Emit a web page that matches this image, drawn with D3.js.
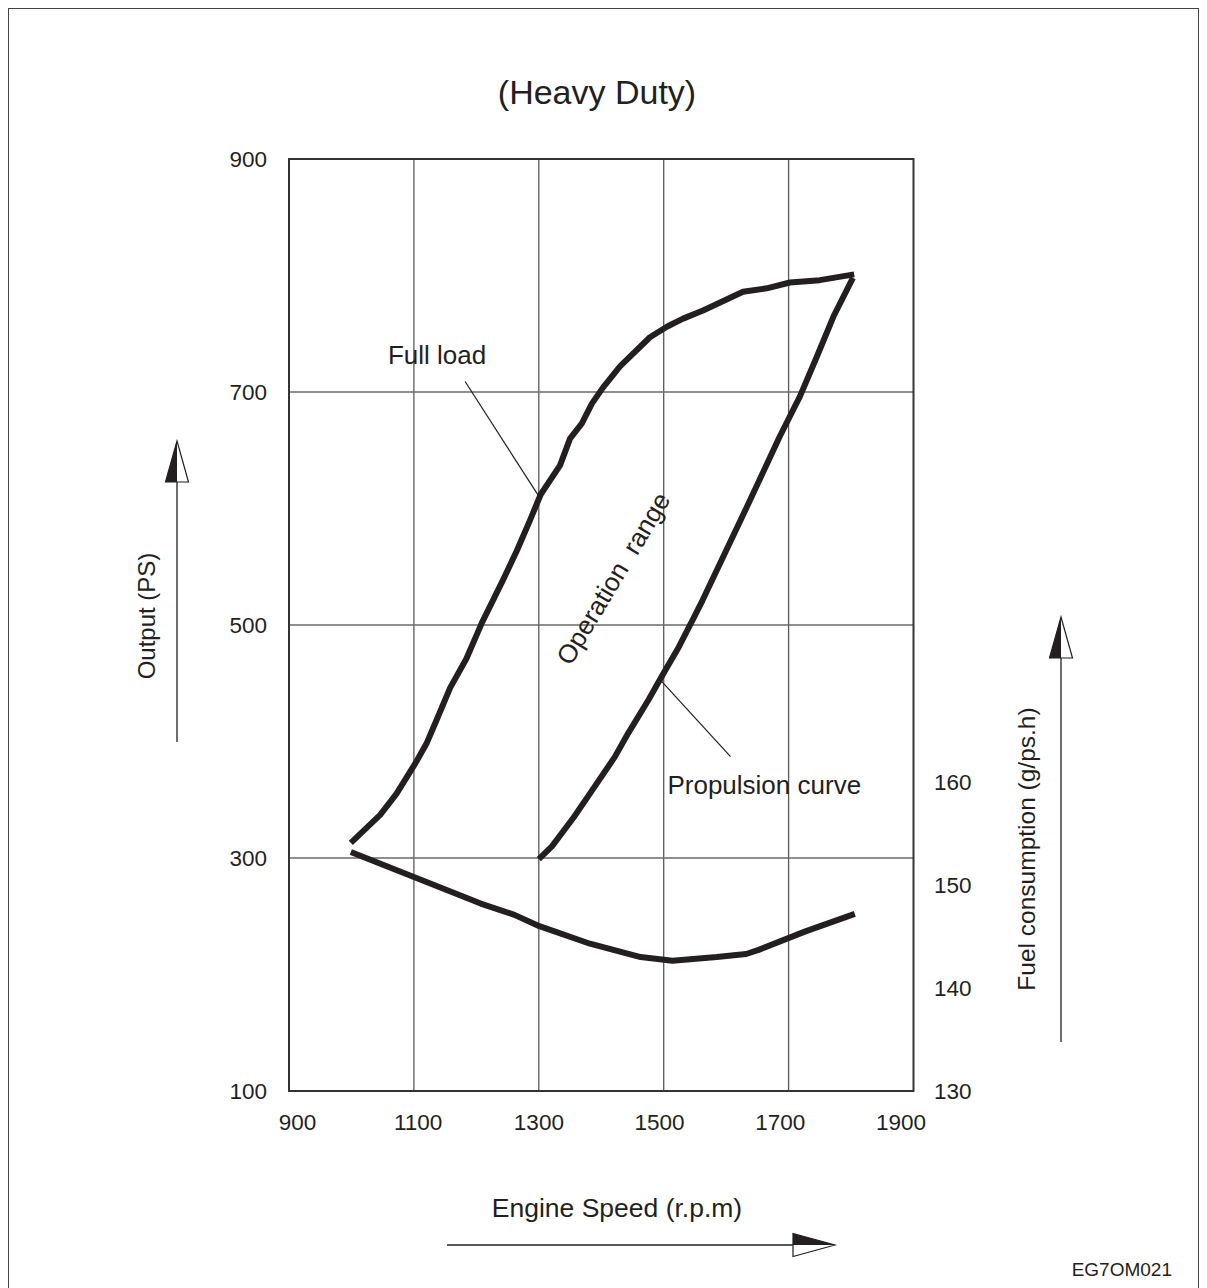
<!DOCTYPE html>
<html>
<head>
<meta charset="utf-8">
<script src="https://cdn.jsdelivr.net/npm/d3@7"></script>
<style>
  html, body { margin: 0; padding: 0; background: #fff; }
  svg { display: block; font-family: "Liberation Sans", Arial, Helvetica, sans-serif; }
  text { fill: #231f20; }
</style>
</head>
<body>
<svg id="chart" width="1207" height="1288"></svg>
<script>
// ---------- data ----------
const title = "(Heavy Duty)";
const xTicks = [900, 1100, 1300, 1500, 1700, 1900];
const yTicksLeft = [100, 300, 500, 700, 900];
const yTicksRight = [130, 140, 150, 160];

// Full load curve: engine speed (rpm) / output (PS)
const fullLoadRpm = [999, 1046, 1072, 1102, 1120, 1136, 1158, 1184, 1209, 1243, 1265, 1286, 1303, 1334, 1350, 1369, 1385, 1403, 1430, 1478, 1505, 1531, 1563, 1627, 1665, 1702, 1750, 1805];
const fullLoadPS  = [313, 337, 355, 381, 398, 418, 446, 471, 502, 539, 564, 590, 612, 637, 660, 673, 690, 704, 722, 747, 756, 763, 770, 786, 789, 794, 796, 801];

// Propulsion curve: engine speed (rpm) / output (PS)
const propRpm = [1300, 1321, 1356, 1384, 1422, 1443, 1476, 1497, 1524, 1546, 1562, 1632, 1686, 1718, 1745, 1772, 1803];
const propPS  = [299, 310, 335, 357, 387, 407, 436, 456, 481, 504, 521, 600, 662, 696, 730, 765, 798];

// Fuel consumption curve: engine speed (rpm) / g/ps.h
const fuelRpm = [999, 1099, 1207, 1261, 1301, 1382, 1463, 1514, 1585, 1632, 1652, 1727, 1806];
const fuelVal = [153.2, 150.8, 148.2, 147.1, 146.0, 144.3, 143.0, 142.65, 143.0, 143.3, 143.7, 145.5, 147.2];

// ---------- layout ----------
const L = 289, R = 913.5, T = 159, B = 1091;
const ink = "#231f20";
const svg = d3.select("#chart");

const x = d3.scaleLinear().domain([900, 1900]).range([L, R]);
const y = d3.scaleLinear().domain([100, 900]).range([B, T]);
const yR = d3.scaleLinear().domain([130, 160]).range([B, 782]);
const xLab = d3.scaleLinear().domain([900, 1900]).range([297.5, 901]);

// outer frame
svg.append("rect").attr("x", 8.5).attr("y", 8.5).attr("width", 1190).attr("height", 1300)
  .attr("fill", "none").attr("stroke", "#444").attr("stroke-width", 1);

// title
svg.append("text").attr("x", 597).attr("y", 104).attr("text-anchor", "middle")
  .attr("font-size", 34).text(title);

// grid
const g = svg.append("g");
g.selectAll("line.v").data(xTicks.slice(1, -1)).join("line")
  .attr("x1", d => x(d)).attr("x2", d => x(d)).attr("y1", T).attr("y2", B)
  .attr("stroke", "#5a5a5a").attr("stroke-width", 1.3);
g.selectAll("line.h").data(yTicksLeft.slice(1, -1)).join("line")
  .attr("y1", d => y(d)).attr("y2", d => y(d)).attr("x1", L).attr("x2", R)
  .attr("stroke", "#6a6a6a").attr("stroke-width", 1.5);

// plot frame
svg.append("rect").attr("x", L).attr("y", T).attr("width", R - L).attr("height", B - T)
  .attr("fill", "none").attr("stroke", "#333").attr("stroke-width", 2);

// tick labels
svg.append("g").selectAll("text").data(xTicks).join("text")
  .attr("x", d => xLab(d)).attr("y", 1130).attr("text-anchor", "middle")
  .attr("font-size", 22.5).text(d => d);
svg.append("g").selectAll("text").data(yTicksLeft).join("text")
  .attr("x", 267).attr("y", d => y(d) + 8).attr("text-anchor", "end")
  .attr("font-size", 22.5).text(d => d);
svg.append("g").selectAll("text").data(yTicksRight).join("text")
  .attr("x", 934).attr("y", d => yR(d) + 8).attr("text-anchor", "start")
  .attr("font-size", 22.5).text(d => d);

// curves
const line = d3.line().curve(d3.curveLinear);
function drawCurve(xs, ys, ys_scale) {
  const pts = xs.map((v, i) => [x(v), ys_scale(ys[i])]);
  svg.append("path").attr("d", line(pts)).attr("fill", "none")
    .attr("stroke", ink).attr("stroke-width", 6).attr("stroke-linejoin", "round");
}
drawCurve(fullLoadRpm, fullLoadPS, y);
drawCurve(propRpm, propPS, y);
drawCurve(fuelRpm, fuelVal, yR);

// annotations
svg.append("text").attr("x", x(1058.5)).attr("y", y(724)).attr("font-size", 26).text("Full load");
svg.append("line").attr("x1", x(1182)).attr("y1", y(709)).attr("x2", x(1303)).attr("y2", y(608))
  .attr("stroke", ink).attr("stroke-width", 1.2);
svg.append("text").attr("x", x(1506)).attr("y", y(355)).attr("font-size", 26).text("Propulsion curve");
svg.append("line").attr("x1", x(1496)).attr("y1", y(452)).attr("x2", x(1607)).attr("y2", y(387))
  .attr("stroke", ink).attr("stroke-width", 1.2);
svg.append("text")
  .attr("transform", `translate(${x(1419)},${y(540)}) rotate(-59)`)
  .attr("text-anchor", "middle").attr("dy", "0.35em").attr("font-size", 26)
  .attr("xml:space", "preserve").style("white-space", "pre")
  .text("Operation  range");

// axis titles with arrows
function arrowHead(cx, tipY, baseY, halfW) {
  svg.append("path").attr("d", `M${cx},${tipY} L${cx + halfW},${baseY} L${cx - halfW},${baseY} Z`)
    .attr("fill", "#fff").attr("stroke", ink).attr("stroke-width", 1.2);
  svg.append("path").attr("d", `M${cx},${tipY} L${cx},${baseY} L${cx - halfW},${baseY} Z`)
    .attr("fill", ink);
}
// left: Output (PS)
svg.append("line").attr("x1", 177).attr("x2", 177).attr("y1", 480).attr("y2", 742)
  .attr("stroke", ink).attr("stroke-width", 1.3);
arrowHead(177, 441, 482, 11.5);
svg.append("text").attr("transform", "translate(155,616) rotate(-90)")
  .attr("text-anchor", "middle").attr("font-size", 24).text("Output (PS)");

// right: Fuel consumption
svg.append("line").attr("x1", 1061).attr("x2", 1061).attr("y1", 656).attr("y2", 1042)
  .attr("stroke", ink).attr("stroke-width", 1.3);
arrowHead(1061, 617, 658, 11.5);
svg.append("text").attr("transform", "translate(1035,849) rotate(-90)")
  .attr("text-anchor", "middle").attr("font-size", 24.5).text("Fuel consumption (g/ps.h)");

// bottom: Engine Speed
svg.append("line").attr("x1", 447).attr("x2", 795).attr("y1", 1245).attr("y2", 1245)
  .attr("stroke", ink).attr("stroke-width", 1.3);
svg.append("path").attr("d", "M835,1245 L793,1256.5 L793,1233.5 Z")
  .attr("fill", "#fff").attr("stroke", ink).attr("stroke-width", 1.2);
svg.append("path").attr("d", "M835,1245 L793,1245 L793,1233.5 Z").attr("fill", ink);
svg.append("text").attr("x", 617).attr("y", 1217).attr("text-anchor", "middle")
  .attr("font-size", 26.5).text("Engine Speed (r.p.m)");

// code
svg.append("text").attr("x", 1172).attr("y", 1276).attr("text-anchor", "end")
  .attr("font-size", 19).text("EG7OM021");
</script>
</body>
</html>
